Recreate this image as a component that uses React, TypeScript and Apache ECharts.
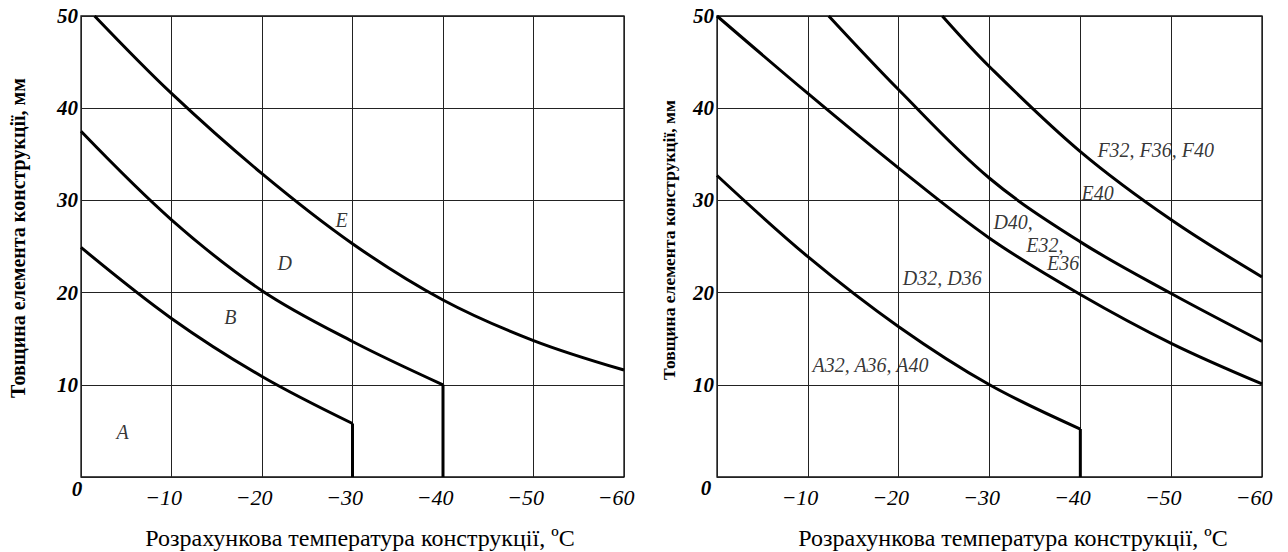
import React, { useEffect, useRef } from "react";
import * as echarts from "echarts";

const FONT = '"Liberation Serif", "Times New Roman", serif';

// Left chart curves: [temperature °C, thickness mm]
const leftCurveE = [[-1.5, 50], [-10, 41.6], [-20, 32.9], [-30, 25.3], [-40, 19.2], [-50, 14.8], [-60, 11.6]];
const leftCurveD = [[0, 37.5], [-10, 27.9], [-20, 20.2], [-30, 14.7], [-40, 10]];
const leftCurveB = [[0, 24.9], [-10, 17.2], [-20, 10.9], [-30, 5.8]];

// Right chart curves
const rightCurveA = [[0, 32.7], [-10, 23.9], [-20, 16.3], [-30, 10], [-40, 5.2]];
const rightCurveD32 = [[0, 50], [-10, 41.6], [-20, 33.5], [-30, 25.9], [-40, 19.8], [-50, 14.5], [-60, 10.1]];
const rightCurveD40 = [[-12.3, 50], [-20, 42], [-30, 32.4], [-40, 25.5], [-50, 19.9], [-60, 14.7]];
const rightCurveF = [[-24.8, 50], [-30, 44.5], [-40, 35.3], [-50, 27.9], [-60, 21.7]];

// Region labels
const leftLabels = [
  { name: "A", value: [-4.6, 4.9] },
  { name: "B", value: [-16.5, 17.4] },
  { name: "D", value: [-22.5, 23.2] },
  { name: "E", value: [-28.8, 27.9] },
];
const rightLabels = [
  { name: "A32, A36, A40", value: [-16.9, 12.2] },
  { name: "D32, D36", value: [-24.8, 21.6] },
  { name: "D40,", value: [-32.6, 27.7] },
  { name: "E32,", value: [-36.1, 25.2] },
  { name: "E36", value: [-38.1, 23.2] },
  { name: "E40", value: [-41.9, 30.8] },
  { name: "F32, F36, F40", value: [-48.3, 35.5] },
];

const xMin = -60;
const xMax = 0;
const yMin = 0;
const yMax = 50;
const tickStep = 10;

const yTitle = "Товщина елемента конструкції, мм";
const xTitle = "Розрахункова температура конструкції, ºС";

const drop = (curve: number[][]) => {
  const last = curve[curve.length - 1];
  return [[last[0], last[1]], [last[0], 0]];
};

export default function App() {
  const ref = useRef<HTMLDivElement>(null);
  useEffect(() => {
    if (!ref.current) return;
    const chart = echarts.init(ref.current, undefined, { renderer: "svg" });

    const gridStyle = {
      show: true,
      borderColor: "#111",
      borderWidth: 1.3,
      backgroundColor: "transparent",
    };
    const mkX = (gridIndex: number) => ({
      type: "value",
      gridIndex,
      min: xMin,
      max: xMax,
      interval: tickStep,
      inverse: true,
      axisLine: { show: false },
      axisTick: { show: false },
      splitLine: { show: true, lineStyle: { color: "#222", width: 1 } },
      axisLabel: {
        show: true,
        margin: 9,
        fontFamily: FONT,
        fontStyle: "italic",
        fontSize: 22,
        color: "#000",
        padding: [0, 16, 0, 0],
        formatter: (v: number) => (v === 0 ? "" : "\u2212" + Math.abs(v)),
      },
    });
    const mkY = (gridIndex: number) => ({
      type: "value",
      gridIndex,
      min: yMin,
      max: yMax,
      interval: tickStep,
      axisLine: { show: false },
      axisTick: { show: false },
      splitLine: { show: true, lineStyle: { color: "#222", width: 1 } },
      axisLabel: {
        show: true,
        margin: 3,
        fontFamily: FONT,
        fontStyle: "italic",
        fontWeight: "bold",
        fontSize: 21,
        color: "#000",
        padding: [12, 0, 0, 0],
        verticalAlign: "middle",
        formatter: (v: number) => (v === 0 ? "" : String(v)),
      },
    });
    const curve = (data: number[][], idx: number) => ({
      type: "line",
      xAxisIndex: idx,
      yAxisIndex: idx,
      data,
      smooth: 0.35,
      symbol: "none",
      silent: true,
      lineStyle: { color: "#000", width: 3 },
    });
    const straight = (data: number[][], idx: number) => ({
      type: "line",
      xAxisIndex: idx,
      yAxisIndex: idx,
      data,
      symbol: "none",
      silent: true,
      lineStyle: { color: "#000", width: 3 },
    });
    const labels = (data: any[], idx: number) => ({
      type: "scatter",
      xAxisIndex: idx,
      yAxisIndex: idx,
      data,
      symbolSize: 1,
      silent: true,
      itemStyle: { color: "transparent" },
      label: {
        show: true,
        position: "inside",
        formatter: "{b}",
        fontFamily: FONT,
        fontStyle: "italic",
        fontSize: 20,
        color: "#000",
      },
    });

    chart.setOption({
      animation: false,
      backgroundColor: "#ffffff",
      grid: [
        { left: 81, top: 16, width: 543, height: 461, ...gridStyle },
        { left: 717, top: 16, width: 545, height: 461, ...gridStyle },
      ],
      xAxis: [mkX(0), mkX(1)],
      yAxis: [mkY(0), mkY(1)],
      series: [
        curve(leftCurveE, 0),
        curve(leftCurveD, 0),
        curve(leftCurveB, 0),
        straight(drop(leftCurveD), 0),
        straight(drop(leftCurveB), 0),
        labels(leftLabels, 0),
        curve(rightCurveA, 1),
        curve(rightCurveD32, 1),
        curve(rightCurveD40, 1),
        curve(rightCurveF, 1),
        straight(drop(rightCurveA), 1),
        labels(rightLabels, 1),
      ],
      graphic: [
        {
          type: "text",
          x: 18,
          y: 238,
          rotation: Math.PI / 2,
          style: {
            text: yTitle,
            font: `bold 20px ${FONT}`,
            fill: "#000",
            align: "center",
            verticalAlign: "middle",
          },
        },
        {
          type: "text",
          x: 669,
          y: 240,
          rotation: Math.PI / 2,
          style: {
            text: yTitle,
            font: `bold 17.5px ${FONT}`,
            fill: "#000",
            align: "center",
            verticalAlign: "middle",
          },
        },
        {
          type: "text",
          x: 360,
          y: 538,
          style: {
            text: xTitle,
            font: `24px ${FONT}`,
            fill: "#000",
            align: "center",
            verticalAlign: "middle",
          },
        },
        {
          type: "text",
          x: 1013,
          y: 538,
          style: {
            text: xTitle,
            font: `24px ${FONT}`,
            fill: "#000",
            align: "center",
            verticalAlign: "middle",
          },
        },
        {
          type: "text",
          x: 77,
          y: 489,
          style: {
            text: "0",
            font: `italic bold 21px ${FONT}`,
            fill: "#000",
            align: "center",
            verticalAlign: "middle",
          },
        },
        {
          type: "text",
          x: 706,
          y: 488,
          style: {
            text: "0",
            font: `italic bold 21px ${FONT}`,
            fill: "#000",
            align: "center",
            verticalAlign: "middle",
          },
        },
      ],
    });
    return () => chart.dispose();
  }, []);
  return (
    <div
      ref={ref}
      style={{ position: "fixed", left: 0, top: 0, width: 1288, height: 552, background: "#fff" }}
    />
  );
}
